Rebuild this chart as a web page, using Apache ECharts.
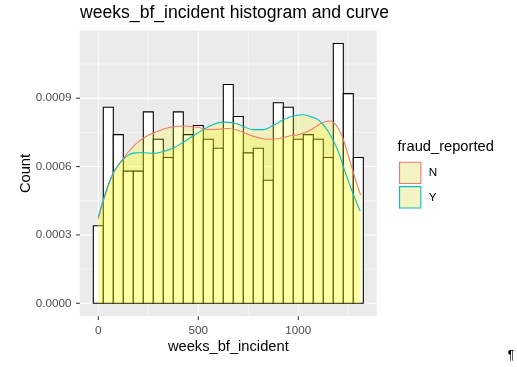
<!DOCTYPE html>
<html><head><meta charset="utf-8">
<script src="https://cdn.jsdelivr.net/npm/echarts@6/dist/echarts.min.js"></script>
<style>html,body{margin:0;padding:0;background:#fff}#c{width:517px;height:367px}</style>
</head><body><div id="c"></div>
<script>
// ---- data ----
const binCenters = [0,50,100,150,200,250,300,350,400,450,500,550,600,650,700,750,800,850,900,950,1000,1050,1100,1150,1200,1250,1300];
const binDensity = [0.00034,0.00086,0.00074,0.00058,0.00058,0.00084,0.00072,0.00064,0.00084,0.00074,0.00078,0.00072,0.00068,0.00096,0.00082,0.00066,0.00068,0.00054,0.00088,0.00086,0.00072,0.00074,0.00072,0.00064,0.00114,0.00092,0.00064];

const nX = [0,25,50,75,100,125,150,175,200,225,250,275,300,325,350,375,400,425,450,500,550,600,650,700,750,800,850,900,950,1000,1050,1100,1130,1160,1190,1215,1240,1265,1290,1312];
const nY = [0.000370,0.000447,0.000516,0.000570,0.000606,0.000636,0.000664,0.000688,0.000708,0.000724,0.000737,0.000747,0.000756,0.000764,0.000770,0.000775,0.000777,0.000778,0.000777,0.000771,0.000763,0.000764,0.000767,0.000758,0.000741,0.000727,0.000720,0.000722,0.000733,0.000740,0.000755,0.000782,0.000796,0.000800,0.000780,0.000742,0.000678,0.000605,0.000532,0.000475];

const yX = [0,25,50,75,100,125,150,175,200,225,275,325,375,425,475,525,575,625,675,725,775,825,875,925,975,1025,1075,1100,1133,1167,1200,1233,1267,1300,1310];
const yY = [0.000380,0.000455,0.000520,0.000573,0.000607,0.000632,0.000650,0.000659,0.000661,0.000661,0.000658,0.000666,0.000681,0.000707,0.000735,0.000762,0.000785,0.000795,0.000792,0.000776,0.000762,0.000762,0.000781,0.000805,0.000822,0.000827,0.000815,0.000805,0.000775,0.000728,0.000666,0.000580,0.000497,0.000424,0.000405];

const xMajorTicks = [0,500,1000];
const xTickLabels = ['0','500','1000'];
const xMinorTicks = [250,750,1250];
const yMajorTicks = [0,0.0003,0.0006,0.0009];
const yTickLabels = ['0.0000','0.0003','0.0006','0.0009'];
const yMinorTicks = [0.00015,0.00045,0.00075,0.00105];
const groups = ['N','Y'];

// ---- layout / style ----
const FONT = 'Liberation Sans, Arial, sans-serif';
const BIN_W = 50;
const X_MIN = -92.5, X_MAX = 1392.5;
const Y_MIN = -0.000057, Y_MAX = 0.001197;
const COL_N = '#F8766D', COL_Y = '#00BFC4';

const chart = echarts.init(document.getElementById('c'), null, {renderer:'canvas'});

function gridLineSeries(ticks, dir, major, labels) {
  return {
    type:'custom', silent:true, z:1, clip:false,
    data: ticks.map((v,i)=> dir==='y' ? [0, v] : [v, 0]),
    encode: {x:0, y:1},
    renderItem: (params, api) => {
      const cs = params.coordSys;
      const children = [];
      const lw = major ? 1.07 : 0.53;
      if (dir === 'y') {
        const y = api.coord([0, api.value(1)])[1];
        children.push({type:'line', shape:{x1:cs.x, y1:y, x2:cs.x+cs.width, y2:y}, style:{stroke:'#fff', lineWidth:lw}});
        if (major) {
          children.push({type:'line', shape:{x1:cs.x-3.7, y1:y, x2:cs.x, y2:y}, style:{stroke:'#333333', lineWidth:1.07}});
          children.push({type:'text', style:{text:labels[params.dataIndex], x:cs.x-8.3, y:y, align:'right', verticalAlign:'middle', fontSize:11.7, fontFamily:FONT, fill:'#4D4D4D'}});
        }
      } else {
        const x = api.coord([api.value(0), 0])[0];
        children.push({type:'line', shape:{x1:x, y1:cs.y, x2:x, y2:cs.y+cs.height}, style:{stroke:'#fff', lineWidth:lw}});
        if (major) {
          const yb = cs.y + cs.height;
          children.push({type:'line', shape:{x1:x, y1:yb, x2:x, y2:yb+3.7}, style:{stroke:'#333333', lineWidth:1.07}});
          children.push({type:'text', style:{text:labels[params.dataIndex], x:x, y:yb+8, align:'center', verticalAlign:'top', fontSize:11.7, fontFamily:FONT, fill:'#4D4D4D'}});
        }
      }
      return {type:'group', children};
    }
  };
}

const option = {
  animation:false,
  backgroundColor:'#ffffff',
  title:{text:'weeks_bf_incident histogram and curve', left:80, top:4, padding:0,
    textStyle:{fontSize:17.6, fontWeight:'normal', color:'#000', fontFamily:FONT}},
  grid:{left:79.8, right:140.2, top:30.5, bottom:50.7, show:true, backgroundColor:'#EBEBEB', borderWidth:0},
  xAxis:{type:'value', min:X_MIN, max:X_MAX, axisLine:{show:false}, axisTick:{show:false}, axisLabel:{show:false}, splitLine:{show:false}},
  yAxis:{type:'value', min:Y_MIN, max:Y_MAX, axisLine:{show:false}, axisTick:{show:false}, axisLabel:{show:false}, splitLine:{show:false}},
  legend:{
    orient:'vertical', left:399, top:161.7, padding:0, itemWidth:21.3, itemHeight:21.3, itemGap:2,
    selectedMode:false,
    textStyle:{fontSize:11.7, color:'#000', fontFamily:FONT, padding:[0,0,0,3]},
    data: groups.map((g,i)=>({name:g, icon:'rect',
      itemStyle:{color:'#F4F4C2', borderColor: i===0?COL_N:COL_Y, borderWidth:1.1}}))
  },
  graphic:[
    {type:'text', left:397.5, top:139.5, style:{text:'fraud_reported', fontSize:14.7, fontFamily:FONT, fill:'#000'}},
    {type:'text', x:26, y:173.5, rotation:Math.PI/2, style:{text:'Count', fontSize:14.7, fontFamily:FONT, fill:'#000', align:'center', verticalAlign:'middle'}},
    {type:'text', x:228.3, y:346.5, style:{text:'weeks_bf_incident', fontSize:14.7, fontFamily:FONT, fill:'#000', align:'center', verticalAlign:'middle'}},
    {type:'text', x:511, y:356, style:{text:'¶', fontSize:12, fontFamily:FONT, fill:'#000', align:'center', verticalAlign:'middle'}}
  ],
  series:[
    gridLineSeries(yMinorTicks,'y',false),
    gridLineSeries(xMinorTicks,'x',false),
    gridLineSeries(yMajorTicks,'y',true,yTickLabels),
    gridLineSeries(xMajorTicks,'x',true,xTickLabels),
    {
      type:'custom', name:'hist', silent:true, z:2, clip:false,
      data: binCenters.map((c,i)=>[c, binDensity[i]]),
      encode:{x:0, y:1},
      renderItem:(params, api)=>{
        const c = api.value(0), d = api.value(1);
        const p0 = api.coord([c - BIN_W/2, d]);
        const p1 = api.coord([c + BIN_W/2, 0]);
        return {type:'rect', shape:{x:p0[0], y:p0[1], width:p1[0]-p0[0], height:p1[1]-p0[1]},
          style:{fill:'#ffffff', stroke:'#000000', lineWidth:1.07}};
      }
    },
    {
      type:'line', name:'N', z:3, silent:true, smooth:0.4, symbol:'none',
      data: nX.map((x,i)=>[x, nY[i]]),
      lineStyle:{color:COL_N, width:1.07}, itemStyle:{color:COL_N},
      areaStyle:{color:'yellow', opacity:0.2}
    },
    {
      type:'line', name:'Y', z:3, silent:true, smooth:0.4, symbol:'none',
      data: yX.map((x,i)=>[x, yY[i]]),
      lineStyle:{color:COL_Y, width:1.07}, itemStyle:{color:COL_Y},
      areaStyle:{color:'yellow', opacity:0.2}
    }
  ]
};
chart.setOption(option);
</script>
</body></html>
